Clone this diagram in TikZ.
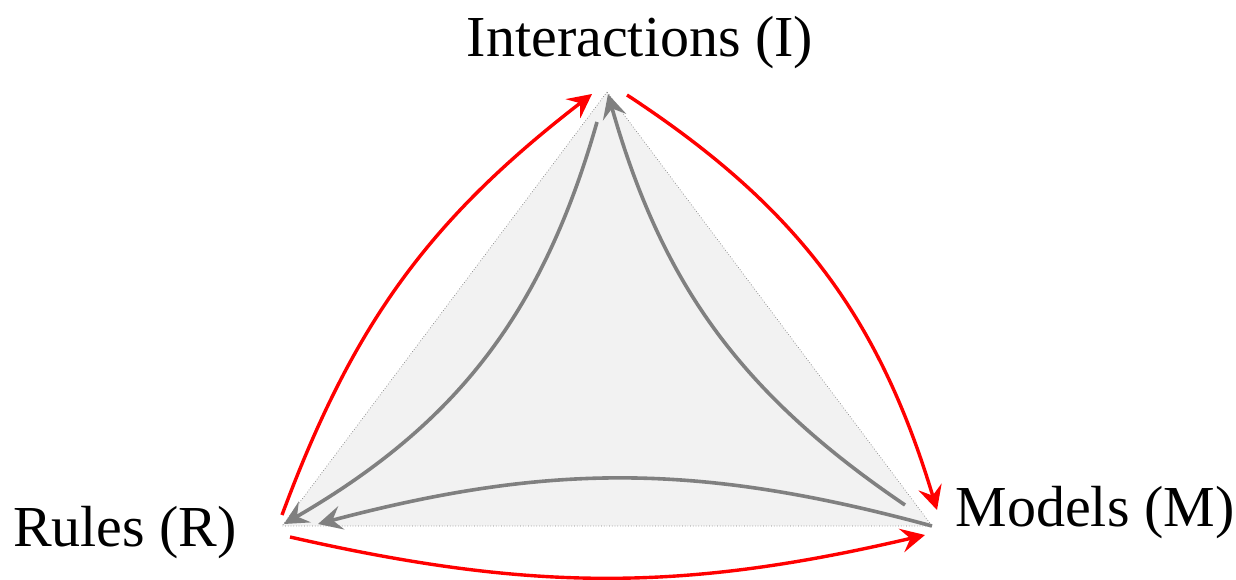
\documentclass[tikz,border=0pt]{standalone}
\usepackage{fontspec}
\setmainfont{Liberation Serif}
\usetikzlibrary{arrows.meta}

\begin{document}
\begin{tikzpicture}[x=1pt, y=1pt,
  lab/.style={anchor=base, inner sep=0pt, font=\fontsize{58}{60}\selectfont},
  tip/.style={-{Stealth[length=24pt, width=24pt, inset=9pt]}},
  greyarc/.style={tip, line width=3.6pt, gray},
  redarc/.style={tip, line width=3.4pt, red}]
\useasboundingbox (0,0) rectangle (1236,580);
% corners of the triangle
\coordinate (I) at (607,488);
\coordinate (R) at (282,54);
\coordinate (M) at (932,54);
\fill[black!5] (I) -- (R) -- (M) -- cycle;
\draw[dotted, gray, line width=0.7pt] (I) -- (R) -- (M) -- cycle;
% labels
\node[lab] (labI) at (640,523) {Interactions (I)};
\node[lab] (labR) at (125,33) {Rules (R)};
\node[lab] (labM) at (1095,53) {Models (M)};
% end points of the arcs
\coordinate (g1) at (597,458);
\coordinate (g1e) at (284,56);
\coordinate (g2) at (905,75);
\coordinate (g2e) at (608,486);
\coordinate (g3e) at (318,56);
\coordinate (ra) at (282,65);
\coordinate (rae) at (592,486);
\coordinate (rb) at (627,485);
\coordinate (rbe) at (937,70);
\coordinate (rc) at (290,43);
\coordinate (rce) at (925,45);
% inner arcs
\draw[greyarc] (g1) to[bend left=22] (g1e);
\draw[greyarc] (g2) to[bend left=20] (g2e);
\draw[greyarc] (M) to[bend right=15] (g3e);
% outer arcs
\draw[redarc] (ra) to[bend left=16] (rae);
\draw[redarc] (rb) to[bend left=20] (rbe);
\draw[redarc] (rc) to[bend right=13] (rce);
\end{tikzpicture}
\end{document}
